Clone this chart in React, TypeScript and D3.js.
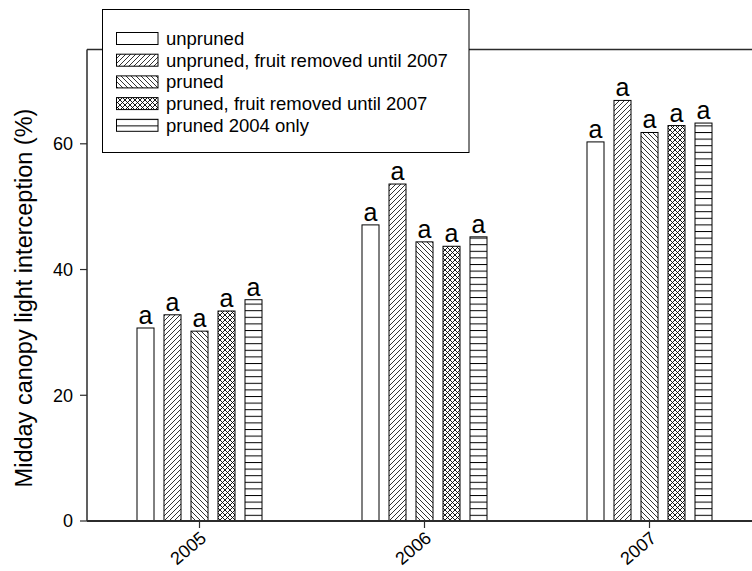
import * as d3 from 'd3'

const years = ['2005', '2006', '2007']
const seriesNames = [
  'unpruned',
  'unpruned, fruit removed until 2007',
  'pruned',
  'pruned, fruit removed until 2007',
  'pruned 2004 only',
]
const unpruned = [30.7, 47.1, 60.3]
const unprunedFruitRemoved = [32.8, 53.6, 66.9]
const pruned = [30.2, 44.4, 61.8]
const prunedFruitRemoved = [33.4, 43.7, 62.9]
const pruned2004Only = [35.2, 45.2, 63.3]
const sigLetters = ['a', 'a', 'a']
const yTicks = [0, 20, 40, 60]

const seriesValues = [unpruned, unprunedFruitRemoved, pruned, prunedFruitRemoved, pruned2004Only]
const fills = ['#fff', 'url(#hatchFwd)', 'url(#hatchBack)', 'url(#hatchCross)', 'url(#hatchHoriz)']

const W = 752
const H = 571
const margin = { top: 49.5, right: -10, bottom: 50, left: 87 }
const font = 'Liberation Sans, Arial, sans-serif'
const axisColor = '#2b2b2b'

export default function App() {
  const x0 = margin.left
  const x1 = W - margin.right
  const yTop = margin.top
  const yBot = H - margin.bottom

  const xScale = d3.scaleBand<string>().domain(years).range([x0, x1]).padding(0)
  const sub = d3.scaleBand<string>().domain(seriesNames).range([-62.5, 62.5]).paddingInner(10 / 27).paddingOuter(0)
  const yScale = d3.scaleLinear().domain([0, 75]).range([yBot, yTop])

  const legendX = 102.5
  const legendY = 9.5
  const rowY = (i: number) => 38.5 + i * 21.7

  return (
    <svg width={W} height={H} style={{ position: 'absolute', left: 0, top: 0, background: '#fff' }}>
      <defs>
        <pattern id="hatchFwd" patternUnits="userSpaceOnUse" width="5" height="5">
          <rect width="5" height="5" fill="#fff" />
          <path d="M-1,1 l2,-2 M0,5 l5,-5 M4,6 l2,-2" stroke="#000" strokeWidth="0.8" />
        </pattern>
        <pattern id="hatchBack" patternUnits="userSpaceOnUse" width="5" height="5">
          <rect width="5" height="5" fill="#fff" />
          <path d="M-1,4 l2,2 M0,0 l5,5 M4,-1 l2,2" stroke="#000" strokeWidth="0.8" />
        </pattern>
        <pattern id="hatchCross" patternUnits="userSpaceOnUse" width="5" height="5">
          <rect width="5" height="5" fill="#fff" />
          <path d="M-1,1 l2,-2 M0,5 l5,-5 M4,6 l2,-2 M-1,4 l2,2 M0,0 l5,5 M4,-1 l2,2" stroke="#000" strokeWidth="0.9" />
        </pattern>
        <pattern id="hatchHoriz" patternUnits="userSpaceOnUse" width="8" height="6.6">
          <rect width="8" height="6.6" fill="#fff" />
          <line x1="0" x2="8" y1="0.5" y2="0.5" stroke="#000" strokeWidth="1" />
        </pattern>
      </defs>

      {/* frame: top line */}
      <line x1={x0} x2={W} y1={yTop} y2={yTop} stroke={axisColor} strokeWidth={1.5} />

      {/* bars */}
      {years.map((yr, gi) => (
        <g key={yr}>
          {seriesNames.map((s, si) => {
            const v = seriesValues[si][gi]
            const cx = (xScale(yr) ?? 0) + xScale.bandwidth() / 2
            const bx = cx + (sub(s) ?? 0)
            const bw = sub.bandwidth()
            return (
              <g key={s}>
                <rect x={bx} y={yScale(v)} width={bw} height={yBot - yScale(v)}
                  fill={fills[si]} stroke="#000" strokeWidth={1} />
                <text x={bx + bw / 2} y={yScale(v) - 4} textAnchor="middle"
                  fontFamily={font} fontSize={25} fill="#000">{sigLetters[gi]}</text>
              </g>
            )
          })}
        </g>
      ))}

      {/* y axis */}
      <line x1={x0} x2={x0} y1={yTop} y2={yBot} stroke={axisColor} strokeWidth={1.5} />
      {yTicks.map(t => (
        <g key={t} transform={`translate(${x0},${yScale(t)})`}>
          <line x1={-7} x2={0} stroke={axisColor} strokeWidth={1.2} />
          <text x={-14} dy="0.35em" textAnchor="end" fontFamily={font} fontSize={18} fill="#000">{t}</text>
        </g>
      ))}
      <text transform={`translate(32,298) rotate(-90)`} textAnchor="middle"
        fontFamily={font} fontSize={23.5} fill="#000">Midday canopy light interception (%)</text>

      {/* x axis */}
      <line x1={x0} x2={W} y1={yBot} y2={yBot} stroke={axisColor} strokeWidth={2} />
      {years.map(yr => {
        const cx = (xScale(yr) ?? 0) + xScale.bandwidth() / 2
        return (
          <g key={yr} transform={`translate(${cx},${yBot})`}>
            <line y1={0} y2={7} stroke={axisColor} strokeWidth={1.2} />
            <text transform="translate(8,19) rotate(-40)" textAnchor="end"
              fontFamily={font} fontSize={18} fill="#000">{yr}</text>
          </g>
        )
      })}

      {/* legend */}
      <rect x={legendX} y={legendY} width={366.5} height={143} fill="#fff" stroke="#000" strokeWidth={1} />
      {seriesNames.map((s, i) => (
        <g key={s}>
          <rect x={116.5} y={rowY(i) - 6} width={41.5} height={12} fill={fills[i]} stroke="#000" strokeWidth={1} />
          <text x={166} y={rowY(i)} dy="0.35em" fontFamily={font} fontSize={18.5} fill="#000">{s}</text>
        </g>
      ))}
    </svg>
  )
}
